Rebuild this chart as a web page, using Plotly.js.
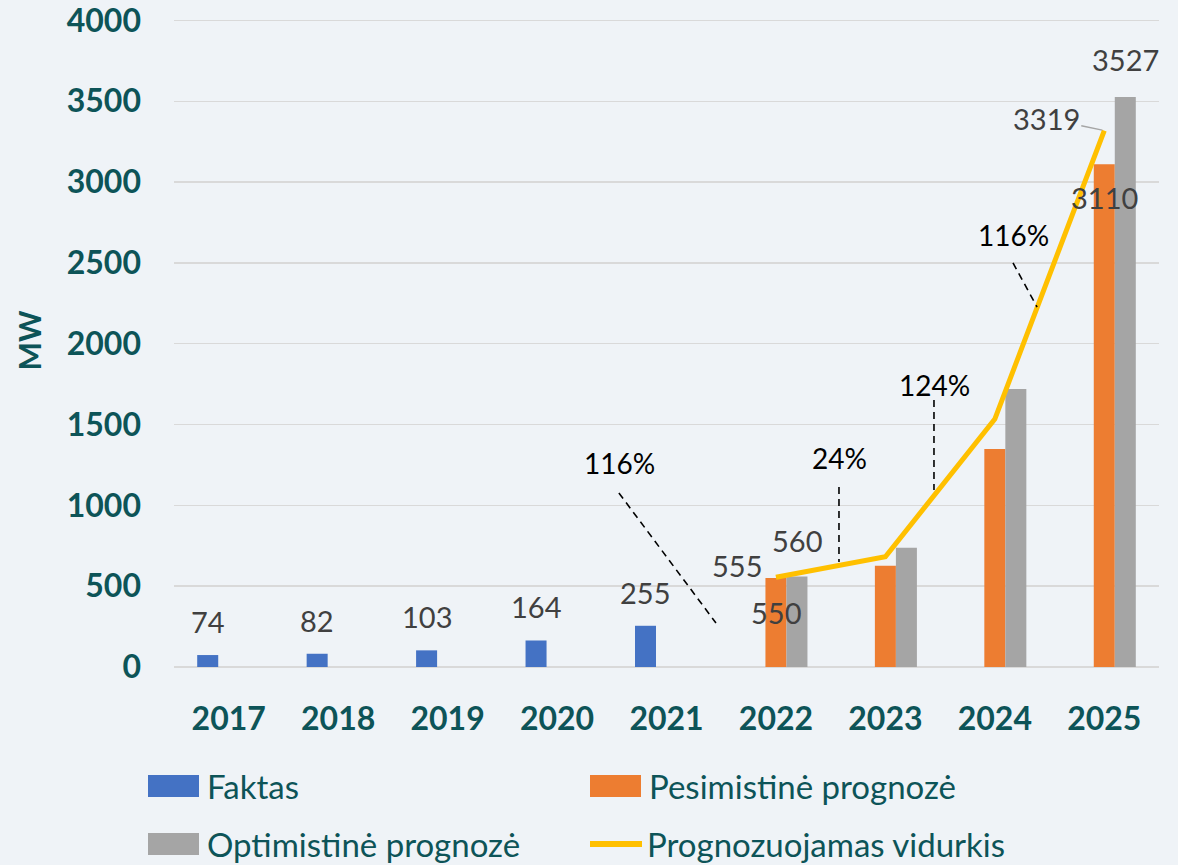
<!DOCTYPE html>
<html>
<head>
<meta charset="utf-8">
<script src="https://cdn.plot.ly/plotly-3.0.1.min.js"></script>
<style>
  html, body { margin: 0; padding: 0; background: #eff3f7; }
  #chart { width: 1178px; height: 865px; }
</style>
</head>
<body>
<div id="chart"></div>
<script>
// ---- data ----
const years = ['2017', '2018', '2019', '2020', '2021', '2022', '2023', '2024', '2025'];
const faktas = [74, 82, 103, 164, 255, null, null, null, null];
const pesimistine = [null, null, null, null, null, 550, 626, 1348, 3110];
const optimistine = [null, null, null, null, null, 560, 738, 1720, 3527];
const vidurkis = [null, null, null, null, null, 555, 682, 1534, 3319];
const seriesNames = ['Faktas', 'Pesimistinė prognozė', 'Optimistinė prognozė', 'Prognozuojamas vidurkis'];
const growthLabels = ['116%', '24%', '124%', '116%'];
const labelledForecastYears = ['2022', '2025'];
const yTicks = [0, 500, 1000, 1500, 2000, 2500, 3000, 3500, 4000];
const yTitle = 'MW';

// ---- styles / layout helpers ----
const COL = { fakt: '#4472c4', pes: '#ed7d31', opt: '#a5a5a5', avg: '#ffc000' };
const TEAL = '#0d5458';
const LBL = '#404040';
const FONT = 'Lato, "Open Sans", sans-serif';
const SLOT = 0.192; // width of one bar in category units
const YMAX = 4040;   // a little headroom so the 4000 grid line / label are drawn

const traces = [
  { type: 'bar', name: seriesNames[0], x: years, y: faktas, marker: { color: COL.fakt }, showlegend: false },
  { type: 'bar', name: seriesNames[1], x: years, y: pesimistine, marker: { color: COL.pes }, showlegend: false },
  { type: 'bar', name: seriesNames[2], x: years, y: optimistine, marker: { color: COL.opt }, showlegend: false },
  { type: 'scatter', mode: 'lines', name: seriesNames[3], x: years, y: vidurkis, line: { color: COL.avg, width: 5 }, showlegend: false }
];

const annotations = [];
const lblFont = { family: FONT, size: 29, color: LBL };
// Faktas labels
faktas.forEach((v, i) => {
  if (v === null) return;
  annotations.push({ x: i - SLOT, y: v, text: String(v), showarrow: false, yanchor: 'bottom', yshift: 14, font: lblFont });
});
// Forecast labels (first and last forecast year)
labelledForecastYears.forEach((yr, k) => {
  const i = years.indexOf(yr);
  if (k === 0) {
    annotations.push({ x: i, y: vidurkis[i], text: String(vidurkis[i]), showarrow: false, xanchor: 'right', xshift: -12, yshift: 12, font: lblFont });
    annotations.push({ x: i + SLOT, y: optimistine[i], text: String(optimistine[i]), showarrow: false, yanchor: 'bottom', yshift: 16, font: lblFont });
    annotations.push({ x: i, y: pesimistine[i], text: String(pesimistine[i]), showarrow: false, yshift: -34, font: lblFont });
  } else {
    annotations.push({ x: i + SLOT, y: optimistine[i], text: String(optimistine[i]), showarrow: false, yanchor: 'bottom', yshift: 18, font: lblFont });
    annotations.push({ x: i, y: vidurkis[i], text: String(vidurkis[i]), showarrow: true, arrowhead: 0, arrowwidth: 1.5, arrowcolor: '#a5a5a5', ax: -58, ay: -12, font: lblFont, standoff: 2 });
    annotations.push({ x: i, y: pesimistine[i], text: String(pesimistine[i]), showarrow: false, yshift: -33, font: lblFont });
  }
});

// growth labels & dashed leaders (positions in category-index / value units)
const growthPos = [
  { tx: 3.574, ty: 1260, l: [3.565, 1077, 4.452, 272] },
  { tx: 5.585, ty: 1293, l: [5.576, 1114, 5.576, 650] },
  { tx: 6.453, ty: 1745, l: [6.444, 1652, 6.444, 1095] },
  { tx: 7.166, ty: 2673, l: [7.166, 2500, 7.386, 2227] }
];
const shapes = [];
growthLabels.forEach((t, k) => {
  const p = growthPos[k];
  annotations.push({ x: p.tx, y: p.ty, text: t, showarrow: false, font: { family: FONT, size: 28, color: '#000000' } });
  shapes.push({ type: 'line', xref: 'x', yref: 'y', x0: p.l[0], y0: p.l[1], x1: p.l[2], y1: p.l[3], line: { color: '#000000', width: 1.6, dash: '7px,5px' } });
});

// plot area in pixels
const PX = 174, PW = 985, PY = 667;
const PXPERUNIT = 646.5 / 4000;
const PH = YMAX * PXPERUNIT;
const PT = PY - PH;
const px = v => (v - PX) / PW;
const py = v => (PY - v) / PH;

// custom legend (paper coords)
const legendItems = [
  { name: seriesNames[0], color: COL.fakt, kind: 'rect', x: 148, y: 786 },
  { name: seriesNames[1], color: COL.pes, kind: 'rect', x: 590, y: 786 },
  { name: seriesNames[2], color: COL.opt, kind: 'rect', x: 148, y: 844 },
  { name: seriesNames[3], color: COL.avg, kind: 'line', x: 588, y: 844 }
];
legendItems.forEach(it => {
  if (it.kind === 'rect') {
    shapes.push({ type: 'rect', xref: 'paper', yref: 'paper', x0: px(it.x), x1: px(it.x + 51), y0: py(it.y - 11), y1: py(it.y + 11), fillcolor: it.color, line: { width: 0 } });
  } else {
    shapes.push({ type: 'line', xref: 'paper', yref: 'paper', x0: px(it.x + 2), x1: px(it.x + 54), y0: py(it.y), y1: py(it.y), line: { color: it.color, width: 6 } });
  }
  annotations.push({ xref: 'paper', yref: 'paper', x: px(it.x + 57), y: py(it.y), xanchor: 'left', yanchor: 'middle', text: it.name, showarrow: false, font: { family: FONT, size: 33, color: TEAL } });
});

const layout = {
  width: 1178, height: 865,
  margin: { l: PX, r: 1178 - PX - PW, t: PT, b: 865 - PY },
  paper_bgcolor: '#eff3f7', plot_bgcolor: '#eff3f7',
  barmode: 'group', bargap: 0.424, bargroupgap: 0,
  showlegend: false,
  font: { family: FONT },
  xaxis: {
    type: 'category', range: [-0.5, 8.5], showgrid: false, showline: false, ticks: '', zeroline: false,
    tickfont: { family: FONT, size: 32, color: TEAL, weight: 'bold' }, ticklabelstandoff: 30, fixedrange: true
  },
  yaxis: {
    range: [0, YMAX], tickvals: yTicks, showgrid: true, gridcolor: '#d9d9d9', gridwidth: 1.5,
    zeroline: true, zerolinecolor: '#d9d9d9', zerolinewidth: 1.5, showline: false, ticks: '',
    tickfont: { family: FONT, size: 32, color: TEAL, weight: 'bold' }, ticklabelstandoff: 32,
    ticklabeloverflow: 'allow',
    title: { text: yTitle, font: { family: FONT, size: 30, color: TEAL, weight: 'bold' }, standoff: 16 },
    automargin: false, fixedrange: true
  },
  annotations: annotations,
  shapes: shapes
};

Plotly.newPlot('chart', traces, layout, { displayModeBar: false, staticPlot: true });
</script>
</body>
</html>
